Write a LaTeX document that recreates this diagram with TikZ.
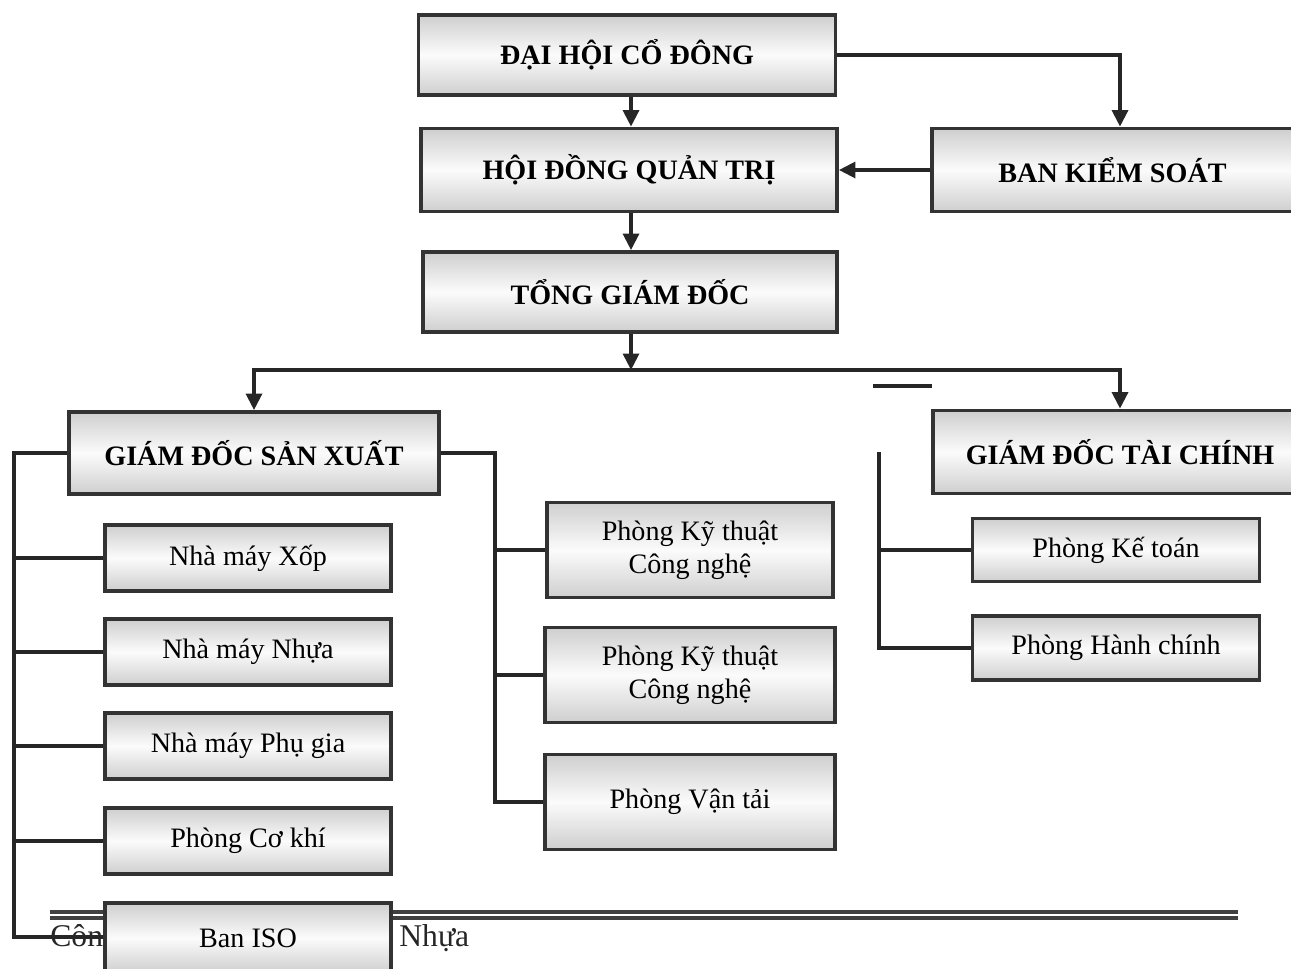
\documentclass[tikz,border=0pt]{standalone}
\usepackage{fontspec}
\setmainfont{Liberation Serif}
\usetikzlibrary{arrows.meta}

\begin{document}
\begin{tikzpicture}[x=0.2mm, y=-0.2mm,
    box/.style={rectangle, draw=black!80, line width=2.2pt,
      top color=gray!38, bottom color=gray!38, middle color=gray!3,
      align=center, font=\fontsize{16}{19}\selectfont},
    head/.style={box, font=\fontsize{16}{19}\selectfont\bfseries},
    link/.style={draw=black!85, line width=1.9pt},
    arr/.style={link, -{Triangle[length=3.3mm, width=3.2mm]}}]
            \useasboundingbox (0,0) rectangle (1291,968);
            \clip (0,0) rectangle (1291,968);

            % Footer part
            \draw[draw=black!75, double=white, line width=1.8pt, double distance=1.6pt] (50,915) -- (1238,915);
            \node[anchor=base west, inner sep=0pt, font=\fontsize{18}{20}\selectfont, text=black!85] (cong) at (50,946) {Côn};
            \node[anchor=base west, inner sep=0pt, font=\fontsize{18}{20}\selectfont, text=black!85] (nhuaft) at (399,946) {Nhựa};

            % Top part
            \node[head, minimum width=83.4mm, minimum height=16mm] (dhcd) at (627,55) {ĐẠI HỘI CỔ ĐÔNG};
            \node[head, minimum width=83.2mm, minimum height=16.6mm] (hdqt) at (629,170) {HỘI ĐỒNG QUẢN TRỊ};
            \node[head, minimum width=75.2mm, minimum height=16.6mm] (bks) at (1120,170) {\hspace*{-3mm}BAN KIỂM SOÁT};
            \node[head, minimum width=82.8mm, minimum height=16mm] (tgd) at (630,292) {TỔNG GIÁM ĐỐC};
            \node[head, minimum width=74mm, minimum height=16.4mm] (gdsx) at (254,453) {GIÁM ĐỐC SẢN XUẤT};
            \node[head, minimum width=74.8mm, minimum height=16.6mm] (gdtc) at (1120,452) {GIÁM ĐỐC TÀI CHÍNH};

            \coordinate (split) at (631,370);
            \draw[arr] (dhcd.south -| split) -- (hdqt.north -| split);
            \draw[arr] (dhcd.east) -| (bks.north);
            \draw[arr] (bks.west) -- (hdqt.east);
            \draw[arr] (hdqt.south -| split) -- (tgd.north -| split);
            \draw[arr] (tgd.south -| split) -- (split);
            \draw[arr] (split) -| (gdsx.north);
            \draw[arr] (split) -| (gdtc.north);

            % stray mark
            \coordinate (m1) at (873,386);
            \coordinate (m2) at (932,386);
            \draw[link] (m1) -- (m2);

            % Production part
            \node[box, minimum width=57.2mm, minimum height=13.2mm] (xop) at (248,558) {Nhà máy Xốp};
            \node[box, minimum width=57.2mm, minimum height=13.2mm] (nhua) at (248,652) {Nhà máy Nhựa};
            \node[box, minimum width=57.2mm, minimum height=13.2mm] (phugia) at (248,746) {Nhà máy Phụ gia};
            \node[box, minimum width=57.2mm, minimum height=13.2mm] (cokhi) at (248,841) {Phòng Cơ khí};
            \node[box, minimum width=57.2mm, minimum height=14mm] (iso) at (248,938) {Ban ISO};

            \coordinate (lb) at (14,937);
            \draw[link] (gdsx.west) -| (lb) -- (iso.west |- lb);
            \draw[link] (xop.west -| lb) -- (xop.west);
            \draw[link] (nhua.west -| lb) -- (nhua.west);
            \draw[link] (phugia.west -| lb) -- (phugia.west);
            \draw[link] (cokhi.west -| lb) -- (cokhi.west);

            \node[box, minimum width=57.2mm, minimum height=19mm] (kt1) at (690,550) {Phòng Kỹ thuật\\Công nghệ};
            \node[box, minimum width=58mm, minimum height=19mm] (kt2) at (690,675) {Phòng Kỹ thuật\\Công nghệ};
            \node[box, minimum width=58mm, minimum height=19mm] (vantai) at (690,802) {Phòng Vận tải};

            \coordinate (rb) at (495,802);
            \draw[link] (gdsx.east) -| (rb) -- (vantai.west);
            \draw[link] (kt1.west -| rb) -- (kt1.west);
            \draw[link] (kt2.west -| rb) -- (kt2.west);

            % Finance part
            \node[box, minimum width=57.4mm, minimum height=12.6mm] (ketoan) at (1116,550) {Phòng Kế toán};
            \node[box, minimum width=57.4mm, minimum height=12.8mm] (hanhchinh) at (1116,648) {Phòng Hành chính};

            \coordinate (ft) at (879,452);
            \draw[link] (ft) |- (hanhchinh.west);
            \draw[link] (ketoan.west -| ft) -- (ketoan.west);
          \end{tikzpicture}
\end{document}
